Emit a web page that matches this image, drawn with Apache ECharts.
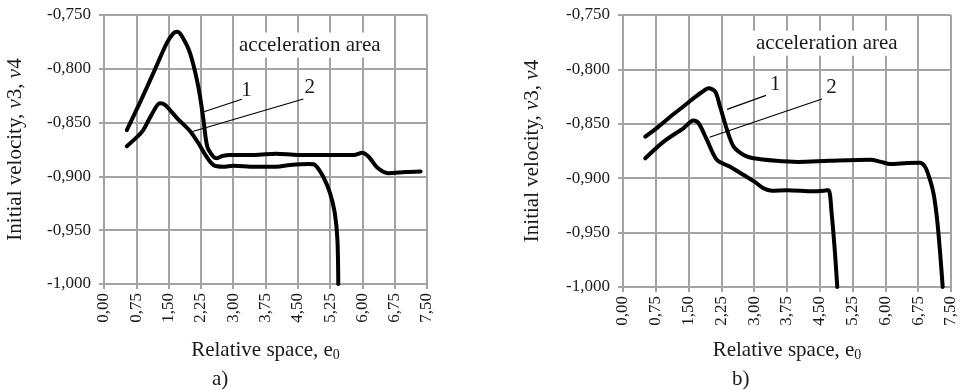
<!DOCTYPE html>
<html>
<head>
<meta charset="utf-8">
<script src="https://cdn.jsdelivr.net/npm/echarts@6/dist/echarts.min.js"></script>
<style>
html,body{margin:0;padding:0;background:#fff;}
#c{width:962px;height:390px;}
</style>
</head>
<body>
<div id="c"></div>
<script>
// ---- Data (x: relative space e0, y: initial velocity) ----
var xTicks = ['0,00','0,75','1,50','2,25','3,00','3,75','4,50','5,25','6,00','6,75','7,50'];
var yTicks = ['-1,000','-0,950','-0,900','-0,850','-0,800','-0,750'];

// Panel a)
var a_curve1 = [[0.53,-0.857],[0.85,-0.830],[1.145,-0.804],[1.46,-0.776],[1.61,-0.767],[1.70,-0.7655],[1.80,-0.769],[2.0,-0.7856],[2.19,-0.8166],[2.31,-0.8476],[2.40,-0.8724],[2.54,-0.8817],[2.62,-0.8832],[2.75,-0.881],[2.93,-0.880],[3.5,-0.880],[4.0,-0.879],[4.5,-0.880],[5.0,-0.880],[5.8,-0.880],[6.0,-0.878],[6.15,-0.882],[6.35,-0.892],[6.6,-0.897],[7.0,-0.896],[7.35,-0.8955]];
var a_curve2 = [[0.53,-0.872],[0.75,-0.864],[0.91,-0.857],[1.1,-0.843],[1.30,-0.832],[1.42,-0.8337],[1.7,-0.846],[2.0,-0.858],[2.19,-0.869],[2.38,-0.8817],[2.54,-0.8894],[2.77,-0.891],[3.0,-0.890],[3.5,-0.891],[4.0,-0.891],[4.32,-0.8894],[4.78,-0.8885],[4.90,-0.8894],[5.09,-0.9003],[5.25,-0.9157],[5.36,-0.9343],[5.42,-0.959],[5.44,-1.000]];

// Panel b)
var b_curve1 = [[0.51,-0.8618],[0.8,-0.853],[1.08,-0.8435],[1.35,-0.835],[1.61,-0.8266],[1.80,-0.821],[1.96,-0.8174],[2.11,-0.8205],[2.22,-0.8343],[2.38,-0.8557],[2.53,-0.871],[2.76,-0.8787],[2.98,-0.8817],[3.5,-0.884],[4.0,-0.885],[4.7,-0.884],[5.65,-0.883],[5.9,-0.885],[6.11,-0.887],[6.5,-0.886],[6.79,-0.8857],[6.9,-0.889],[7.0,-0.899],[7.1,-0.914],[7.18,-0.937],[7.25,-0.968],[7.31,-1.0]];
var b_curve2 = [[0.51,-0.8817],[0.93,-0.8664],[1.38,-0.8541],[1.61,-0.847],[1.73,-0.8495],[1.92,-0.8649],[2.15,-0.8833],[2.45,-0.8894],[2.76,-0.8971],[3.0,-0.903],[3.21,-0.9093],[3.4,-0.9115],[3.75,-0.911],[4.35,-0.912],[4.6,-0.9115],[4.70,-0.911],[4.77,-0.932],[4.84,-0.965],[4.90,-1.0]];

// Annotations (data units): leader lines, curve numbers, area text
var a_leaders = [[[2.32,-0.8399],[3.20,-0.8283]],[[2.04,-0.8585],[4.63,-0.8281]]];
var a_numbers = [[3.31,-0.8197,'1'],[4.78,-0.8178,'2']];
var a_areaText = [4.78,-0.7779,'acceleration area'];
var b_leaders = [[[2.38,-0.8367],[3.27,-0.8239]],[[1.98,-0.8624],[4.55,-0.8272]]];
var b_numbers = [[3.48,-0.8143,'1'],[4.77,-0.8165,'2']];
var b_areaText = [4.66,-0.776,'acceleration area'];

var FONT = 'Liberation Serif';
var TXT = '#1a1a1a';
var GRIDC = '#a3a3a3';

function xAxis(idx){
  return {
    type:'value', gridIndex:idx, min:0, max:7.5, interval:0.75,
    name:'Relative space, e{sub|0}', nameLocation:'middle', nameGap:idx===0?54:51,
    nameTextStyle:{fontFamily:FONT,fontSize:21,color:TXT,
      rich:{sub:{fontFamily:FONT,fontSize:14,color:TXT,verticalAlign:'bottom',padding:[10,0,0,0]}}},
    axisLine:{show:true,lineStyle:{color:GRIDC,width:2}},
    axisTick:{show:true,length:5,lineStyle:{color:GRIDC,width:2}},
    splitLine:{show:true,lineStyle:{color:GRIDC,width:2}},
    axisLabel:{rotate:90,margin:9,fontFamily:FONT,fontSize:17,color:TXT,
      formatter:function(v){var i=Math.round(v/0.75);return xTicks[i]!==undefined?xTicks[i]:'';}}
  };
}
function yAxis(idx){
  return {
    type:'value', gridIndex:idx, min:-1.0, max:-0.75, interval:0.05,
    name:'Initial velocity, {i|v}3, {i|v}4', nameLocation:'middle', nameGap:idx===0?78:80,
    nameRotate:90,
    nameTextStyle:{fontFamily:FONT,fontSize:21,color:TXT,
      rich:{i:{fontFamily:FONT,fontSize:21,fontStyle:'italic',color:TXT}}},
    axisLine:{show:true,lineStyle:{color:GRIDC,width:2}},
    axisTick:{show:true,length:5,lineStyle:{color:GRIDC,width:2}},
    splitLine:{show:true,lineStyle:{color:GRIDC,width:2}},
    axisLabel:{margin:13,fontFamily:FONT,fontSize:17,color:TXT,
      formatter:function(v){var i=Math.round((v+1.0)/0.05);return yTicks[i]!==undefined?yTicks[i]:'';}}
  };
}
function curve(idx,data,extra){
  var s = {type:'line',xAxisIndex:idx,yAxisIndex:idx,data:data,showSymbol:false,symbol:'none',
    smooth:0.3,
    lineStyle:{color:'#000',width:4,cap:'round',join:'round'},z:5};
  if(extra){for(var k in extra)s[k]=extra[k];}
  return s;
}
function annot(leaders,numbers,area){
  return {
    markLine:{silent:true,symbol:['none','none'],label:{show:false},
      lineStyle:{color:'#000',width:1.2,type:'solid'},
      data:leaders.map(function(l){return [{coord:l[0]},{coord:l[1]}];})},
    markPoint:{silent:true,symbol:'circle',symbolSize:0,
      data:numbers.map(function(n){return {coord:[n[0],n[1]],value:n[2],
          label:{show:true,formatter:n[2],fontFamily:FONT,fontSize:21,color:TXT}};})
        .concat([{coord:[area[0],area[1]],value:0,
          label:{show:true,formatter:area[2],fontFamily:FONT,fontSize:21,color:TXT,
            backgroundColor:'#fff',padding:[2,4,2,4]}}])}
  };
}

var chart = echarts.init(document.getElementById('c'),null,{renderer:'canvas'});
chart.setOption({
  animation:false,
  backgroundColor:'#fff',
  grid:[
    {left:104,top:15,width:323,height:269,containLabel:false},
    {left:623,top:15,width:328,height:272,containLabel:false}
  ],
  xAxis:[xAxis(0),xAxis(1)],
  yAxis:[yAxis(0),yAxis(1)],
  series:[
    curve(0,a_curve1,annot(a_leaders,a_numbers,a_areaText)),
    curve(0,a_curve2),
    curve(1,b_curve1,annot(b_leaders,b_numbers,b_areaText)),
    curve(1,b_curve2)
  ],
  graphic:[
    {type:'text',left:212,top:369,style:{text:'a)',font:'21px "Liberation Serif"',fill:TXT}},
    {type:'text',left:732,top:369,style:{text:'b)',font:'21px "Liberation Serif"',fill:TXT}}
  ]
});
</script>
</body>
</html>
